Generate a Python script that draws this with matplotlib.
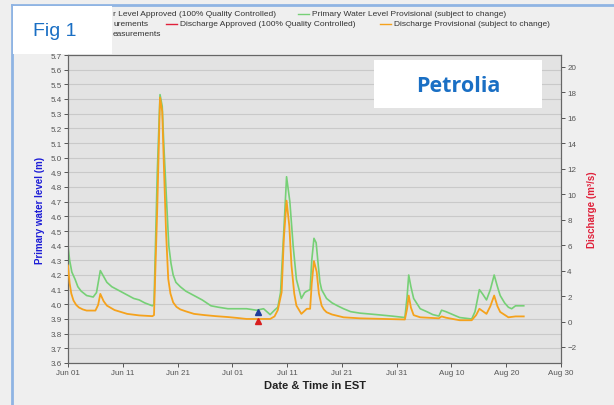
import datetime as dt
import matplotlib
matplotlib.use("Agg")
import matplotlib.pyplot as plt
import matplotlib.dates as mdates
from matplotlib.patches import Rectangle
from matplotlib.lines import Line2D

plt.rcParams['font.family'] = ['Liberation Sans', 'DejaVu Sans']

start = dt.datetime(2019, 6, 1)

# water level (m), days after Jun 01
level_days = [0, 0.3, 0.7, 1.3, 1.8, 2.4, 3.4, 4.6, 5.2, 5.9, 6.5, 7.1, 8.0, 9.0, 10.0,
              11.0, 12.0, 13.0, 14.0, 15.4, 15.7, 16.3, 16.8, 17.2, 17.5, 18.0, 18.4,
              18.8, 19.2, 19.7, 20.5, 21.5, 23.0, 24.5, 26.1, 27.5, 29.2, 30.9, 32.6,
              34.4, 35.7, 36.9, 37.7, 38.3, 38.8, 39.4, 39.9, 40.5, 41.1, 41.7, 42.6,
              43.2, 43.6, 44.2, 44.5, 44.9, 45.3, 45.7, 46.0, 46.3, 47.2, 48.2, 49.2,
              50.3, 51.6, 53.3, 56.3, 59.1, 61.5, 61.9, 62.2, 62.6, 63.1, 64.3, 65.5,
              66.6, 67.7, 68.2, 69.0, 71.5, 73.7, 74.3, 75.1, 75.7, 76.4, 77.1, 77.8,
              78.4, 78.9, 79.7, 80.4, 81.0, 81.7, 83.2]
level = [4.40, 4.30, 4.22, 4.17, 4.12, 4.09, 4.06, 4.05, 4.08, 4.23, 4.19, 4.15, 4.12, 4.10, 4.08,
         4.06, 4.04, 4.03, 4.01, 3.99, 4.00, 4.90, 5.43, 5.35, 5.08, 4.70, 4.40,
         4.28, 4.20, 4.15, 4.12, 4.09, 4.06, 4.03, 3.99, 3.98, 3.97, 3.97, 3.97,
         3.96, 3.97, 3.93, 3.96, 3.98, 4.08, 4.50, 4.87, 4.70, 4.40, 4.17, 4.04,
         4.08, 4.09, 4.10, 4.30, 4.45, 4.42, 4.26, 4.15, 4.10, 4.04, 4.01, 3.99,
         3.97, 3.95, 3.94, 3.93, 3.92, 3.91, 4.05, 4.20, 4.12, 4.04, 3.97, 3.95,
         3.93, 3.92, 3.96, 3.95, 3.91, 3.90, 3.95, 4.10, 4.07, 4.03, 4.10, 4.20,
         4.12, 4.06, 4.01, 3.98, 3.97, 3.99, 3.99]

# discharge (m3/s), days after Jun 01
flow_days = [0, 0.3, 0.6, 1.0, 1.5, 2.0, 2.7, 3.4, 5.0, 5.5, 5.9, 6.5, 7.1, 8.5, 10.8,
             13.0, 15.4, 15.7, 16.3, 16.8, 17.2, 17.5, 17.9, 18.3, 18.7, 19.2, 19.8,
             20.5, 21.5, 23.0, 25.0, 27.0, 29.2, 30.9, 32.6, 36.9, 37.7, 38.3, 39.0,
             39.4, 39.9, 40.4, 40.8, 41.3, 41.7, 42.6, 43.6, 44.2, 44.5, 44.9, 45.4,
             45.8, 46.3, 46.7, 47.2, 48.2, 50.3, 53.3, 61.5, 61.9, 62.2, 62.6, 63.1,
             64.3, 67.7, 68.2, 69.0, 71.5, 73.7, 74.5, 75.1, 76.4, 77.1, 77.8, 78.4,
             78.9, 80.4, 81.7, 83.2]
flow = [4.4, 3.0, 2.2, 1.65, 1.3, 1.1, 0.95, 0.86, 0.86, 1.3, 2.17, 1.6, 1.25, 0.9, 0.6,
        0.48, 0.42, 0.5, 9.0, 17.6, 16.5, 12.3, 7.0, 3.35, 2.2, 1.5, 1.15,
        0.95, 0.8, 0.6, 0.5, 0.42, 0.35, 0.28, 0.2, 0.2, 0.4, 0.9, 2.3,
        6.5, 9.5, 7.5, 4.4, 2.2, 1.25, 0.6, 1.0, 1.0, 3.0, 4.75, 3.9,
        2.2, 1.25, 0.95, 0.73, 0.55, 0.33, 0.25, 0.16, 1.0, 2.04, 1.1, 0.5,
        0.33, 0.25, 0.4, 0.3, 0.1, 0.1, 0.5, 1.0, 0.6, 1.2, 2.04, 1.2,
        0.75, 0.33, 0.4, 0.4]

# field measurements
meas_day = 34.6
meas_level = 3.95
meas_flow = 0.05

tick_days = [0, 10, 20, 30, 40, 50, 60, 70, 80, 90]

to_date = lambda d: start + dt.timedelta(days=d)
level_x = [to_date(d) for d in level_days]
flow_x = [to_date(d) for d in flow_days]

fig = plt.figure(figsize=(6.14, 4.06), dpi=100, facecolor='#efefef')
ax = fig.add_axes([68/614, 1-364/406, 493/614, 308/406])
ax.set_facecolor('#e3e3e3')
ax2 = ax.twinx()

ax.set_ylim(3.6, 5.7)
ax.set_yticks([3.6 + 0.1*i for i in range(22)])
ax.set_yticklabels(['%.1f' % (3.6 + 0.1*i) for i in range(22)])
ax.grid(axis='y', color='#c9c9c9', linewidth=0.8)
ax.set_axisbelow(True)
ax.set_xlim(to_date(0), to_date(90))
ax.set_xticks([to_date(d) for d in tick_days])
ax.xaxis.set_major_formatter(mdates.DateFormatter('%b %d'))

ax2.set_ylim(-3.26, 20.94)
ax2.set_yticks(range(-2, 21, 2))

ax2.plot(flow_x, flow, color='#f5a21c', linewidth=1.3, zorder=3)
ax.plot(level_x, level, color='#76d076', linewidth=1.2, zorder=4)
ax.plot([to_date(meas_day)], [meas_level], '^', color='#1f3c9a', markersize=4, zorder=6)
ax2.plot([to_date(meas_day)], [meas_flow], '^', color='#d81e1e', markersize=4, zorder=6)

for a in (ax, ax2):
    a.tick_params(labelsize=5.8, colors='#555555', length=3, width=0.7, pad=1.5)
    for s in a.spines.values():
        s.set_color('#666666')
        s.set_linewidth(0.8)

ax.set_ylabel('Primary water level (m)', color='#1c1cd6', fontsize=7, fontweight='bold', labelpad=4)
ax2.set_ylabel('Discharge (m³/s)', color='#e0203a', fontsize=7, fontweight='bold', labelpad=8)
ax.set_xlabel('Date & Time in EST', color='#222222', fontsize=8, fontweight='bold', labelpad=3)

# legend (left part hidden behind the Fig 1 box in the original)
lg = dict(fontsize=6.0, color='#333333', va='center', zorder=5)
fig.text(113/614, 1-15/406, 'r Level Approved (100% Quality Controlled)', ha='left', **lg)
fig.text(113/614, 1-25/406, 'urements', ha='left', **lg)
fig.text(113/614, 1-35/406, 'easurements', ha='left', **lg)
leg_items = [(298, 15, '#76d076', 'Primary Water Level Provisional (subject to change)'),
             (166, 25, '#e0203a', 'Discharge Approved (100% Quality Controlled)'),
             (380, 25, '#f5a21c', 'Discharge Provisional (subject to change)')]
for x0, y0, c, t in leg_items:
    fig.add_artist(Line2D([x0/614, (x0+11)/614], [1-y0/406, 1-y0/406], color=c, linewidth=1, zorder=5))
    fig.text((x0+14)/614, 1-y0/406, t, ha='left', **lg)

# outer blue frame
fig.add_artist(Line2D([12/614, 12/614], [0, 1-6/406], color='#8fb4e3', linewidth=2, zorder=8))
fig.add_artist(Line2D([12/614, 1], [1-6/406, 1-6/406], color='#8fb4e3', linewidth=2, zorder=8))

# Fig 1 box
fig.add_artist(Rectangle((13/614, 1-55/406), 99/614, 48/406, transform=fig.transFigure,
                         facecolor='white', edgecolor='none', zorder=9))
fig.text(55/614, 1-31/406, 'Fig 1', fontsize=14, color='#1a6fc4', ha='center', va='center', zorder=10)

# station name box
fig.add_artist(Rectangle((374/614, 1-109/406), 168/614, 48/406, transform=fig.transFigure,
                         facecolor='white', edgecolor='none', zorder=9))
fig.text(458/614, 1-86/406, 'Petrolia', fontsize=15.5, fontweight='bold', color='#1a6fc4',
         family=['Open Sans', 'DejaVu Sans'], ha='center', va='center', zorder=10)

fig.savefig('out.png', dpi=100, facecolor=fig.get_facecolor())
